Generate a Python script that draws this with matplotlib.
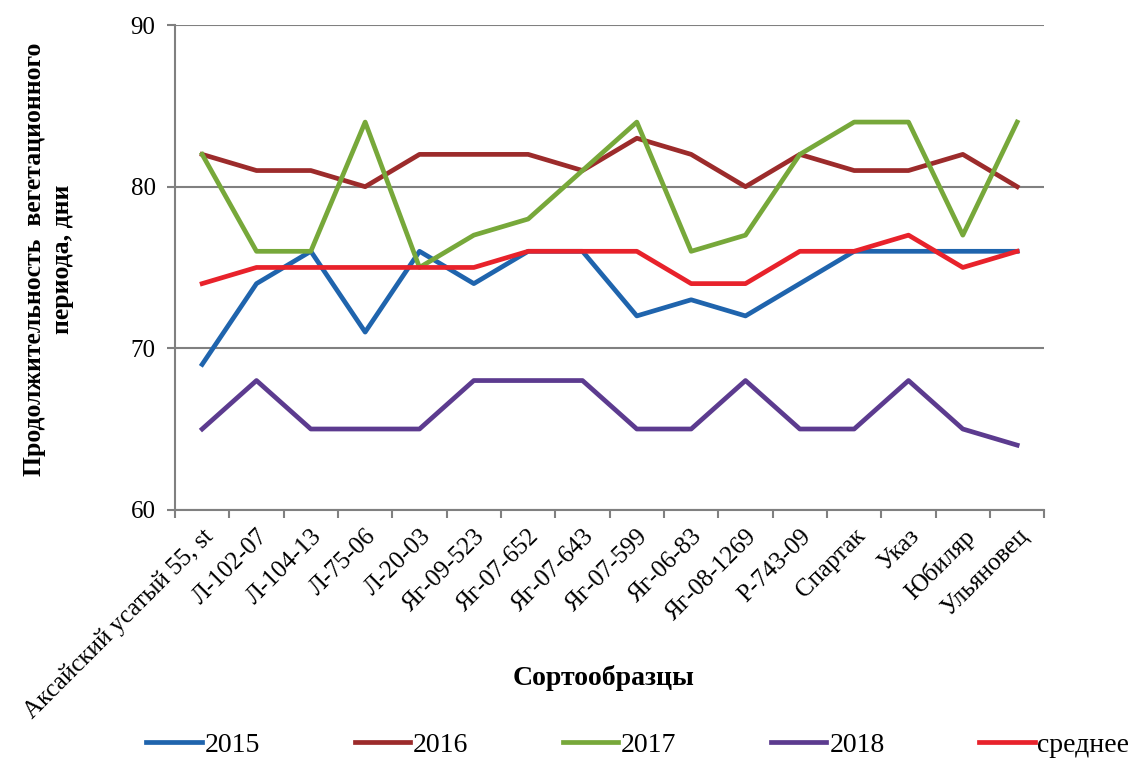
import numpy as np
import matplotlib
matplotlib.use("Agg")
import matplotlib.pyplot as plt

plt.rcParams['font.family'] = ['Liberation Serif', 'DejaVu Serif']

# Сортообразцы
varieties = ["Аксайский усатый 55, st", "Л-102-07", "Л-104-13", "Л-75-06", "Л-20-03",
             "Яг-09-523", "Яг-07-652", "Яг-07-643", "Яг-07-599", "Яг-06-83",
             "Яг-08-1269", "Р-743-09", "Спартак", "Указ", "Юбиляр", "Ульяновец"]

y2015 = [69, 74, 76, 71, 76, 74, 76, 76, 72, 73, 72, 74, 76, 76, 76, 76]
y2016 = [82, 81, 81, 80, 82, 82, 82, 81, 83, 82, 80, 82, 81, 81, 82, 80]
y2017 = [82, 76, 76, 84, 75, 77, 78, 81, 84, 76, 77, 82, 84, 84, 77, 84]
y2018 = [65, 68, 65, 65, 65, 68, 68, 68, 65, 65, 68, 65, 65, 68, 65, 64]
mean = [74, 75, 75, 75, 75, 75, 76, 76, 76, 74, 74, 76, 76, 77, 75, 76]

series = [("2015", y2015, "#1f64ad"),
          ("2016", y2016, "#9c2b2b"),
          ("2017", y2017, "#77a83a"),
          ("2018", y2018, "#5c3b8f"),
          ("среднее", mean, "#e8222b")]

fig = plt.figure(figsize=(11.29, 7.62), dpi=100)
ax = fig.add_axes([0.155, 0.331, 0.77, 0.636])

x = np.arange(len(varieties))
for name, vals, col in series:
    ax.plot(x, vals, color=col, lw=3.4, label=name)

ax.set_xlim(-0.5, len(varieties) - 0.5)
ax.set_ylim(60, 90)
ax.set_yticks([60, 70, 80, 90])
ax.yaxis.grid(True, color='#808080', lw=1.5)
ax.set_axisbelow(True)

ax.set_xticks(x)
ax.set_xticklabels(varieties, rotation=45, ha='right', rotation_mode='anchor', fontsize=18)
ax.set_xticks(np.arange(-0.5, len(varieties)), minor=True)
ax.tick_params(axis='x', which='major', length=0, pad=11)
ax.tick_params(axis='x', which='minor', length=6, width=1.5, color='#808080', direction='out')
ax.tick_params(axis='y', length=6, width=1.5, color='#808080', labelsize=18, pad=8)

for s in ['top', 'right']:
    ax.spines[s].set_visible(False)
for s in ['left', 'bottom']:
    ax.spines[s].set_color('#808080')
    ax.spines[s].set_linewidth(1.5)

fig.text(0.535, 0.110, "Сортообразцы", fontsize=20, fontweight='bold',
         ha='center', va='center')
fig.text(0.043, 0.66, "Продолжительность  вегетационного\nпериода, дни", fontsize=18.5,
         fontweight='bold', rotation=90, ha='center', va='center', linespacing=1.25,
         multialignment='center')

fig.legend(loc='center', ncol=5, frameon=False, fontsize=20,
           bbox_to_anchor=(0.565, 0.022), handlelength=2.0, columnspacing=3.4,
           handletextpad=0.1, borderpad=0)

fig.savefig("out.png", dpi=100)
